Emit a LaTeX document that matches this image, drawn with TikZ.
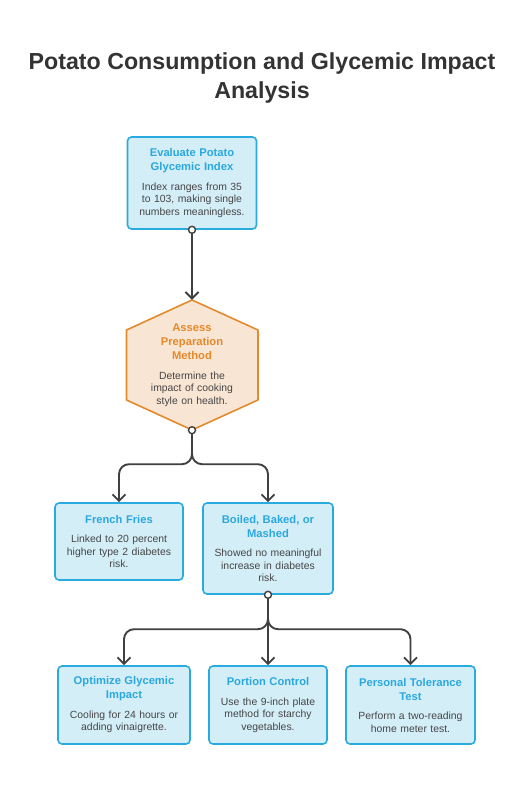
\documentclass[tikz,border=0pt]{standalone}
\usepackage{fontspec}
\setmainfont{Liberation Sans}
\usepackage{tikz}
\usetikzlibrary{arrows.meta,calc}

\definecolor{boxfill}{HTML}{D4EEF8}
\definecolor{boxline}{HTML}{2AABE0}
\definecolor{boxtitle}{HTML}{2AA8DE}
\definecolor{hexfill}{HTML}{F9E5D3}
\definecolor{hexline}{HTML}{E48A2C}
\definecolor{bodytext}{HTML}{454545}
\definecolor{linegray}{HTML}{404040}
\definecolor{titlegray}{HTML}{333333}

\newcommand\cardtitle[2]{{\color{#1}\bfseries\fontsize{11.2}{14}\selectfont #2\par}\vspace{7pt}}

\begin{document}
\begin{tikzpicture}[x=1pt,y=-1pt]
\tikzstyle{card}=[rectangle, rounded corners=4pt, draw=boxline, line width=1.6pt, fill=boxfill, align=center, inner xsep=3pt, inner ysep=0pt, text=bodytext, font=\fontsize{10.4}{12.5}\selectfont]
\tikzstyle{hexcard}=[rectangle, inner sep=0pt, text width=125pt, minimum height=130pt, align=center, text=bodytext, font=\fontsize{10.4}{12.5}\selectfont]
\tikzstyle{hexedge}=[draw=hexline, fill=hexfill, line width=1.6pt, line join=round]
\tikzstyle{conn}=[draw=linegray, line width=1.9pt, rounded corners=10pt, -{Straight Barb[length=6.5pt,width=13pt]}]
\tikzstyle{startdot}=[circle, draw=linegray, fill=white, line width=1.4pt, inner sep=0pt, minimum size=7pt]

\fill[white] (0,0) rectangle (531,799);
\useasboundingbox (0,0) rectangle (531,799);

% title
\node[font=\fontsize{23.2}{29}\selectfont\bfseries, text=titlegray, align=center] (title) at (262,78) {Potato Consumption and Glycemic Impact\\Analysis};

% first step
\node[card, text width=123pt, minimum height=92pt] (evaluate) at (192,183) {\cardtitle{boxtitle}{Evaluate Potato\\Glycemic Index}Index ranges from 35\\to 103, making single\\numbers meaningless.};

% decision hexagon
\draw[hexedge] (192,300) -- (258,330) -- (258,400) -- (192,430) -- (126.5,400) -- (126.5,330) -- cycle;
\node[hexcard] (assess) at (192,365) {\cardtitle{hexline}{Assess\\Preparation\\Method}Determine the\\impact of cooking\\style on health.};

% preparation styles
\node[card, text width=122pt, minimum height=77pt] (fries) at (119,541.5) {\cardtitle{boxtitle}{French Fries}Linked to 20 percent\\higher type 2 diabetes\\risk.};
\node[card, text width=124pt, minimum height=91pt] (boiled) at (268,548.5) {\cardtitle{boxtitle}{Boiled, Baked, or\\Mashed}Showed no meaningful\\increase in diabetes\\risk.};

% strategies
\node[card, text width=126pt, minimum height=78pt] (optimize) at (124,705) {\cardtitle{boxtitle}{Optimize Glycemic\\Impact}Cooling for 24 hours or\\adding vinaigrette.};
\node[card, text width=112pt, minimum height=78pt] (portion) at (268,705) {\cardtitle{boxtitle}{Portion Control}Use the 9-inch plate\\method for starchy\\vegetables.};
\node[card, text width=123pt, minimum height=78pt] (tolerance) at (410.5,705) {\cardtitle{boxtitle}{Personal Tolerance\\Test}Perform a two-reading\\home meter test.};

% connectors
\draw[conn] (evaluate.south) -- (assess.north);
\draw[conn] (assess.south) |- ($(fries.north)+(0,-38)$) -- (fries.north);
\draw[conn] (assess.south) |- ($(boiled.north)+(0,-38)$) -- (boiled.north);
\draw[conn] (boiled.south) |- ($(optimize.north)+(0,-36)$) -- (optimize.north);
\draw[conn] (boiled.south) -- (portion.north);
\draw[conn] (boiled.south) |- ($(tolerance.north)+(0,-36)$) -- (tolerance.north);

\node[startdot] (dotA) at (evaluate.south) {};
\node[startdot] (dotB) at (assess.south) {};
\node[startdot] (dotC) at (boiled.south) {};
\end{tikzpicture}
\end{document}
